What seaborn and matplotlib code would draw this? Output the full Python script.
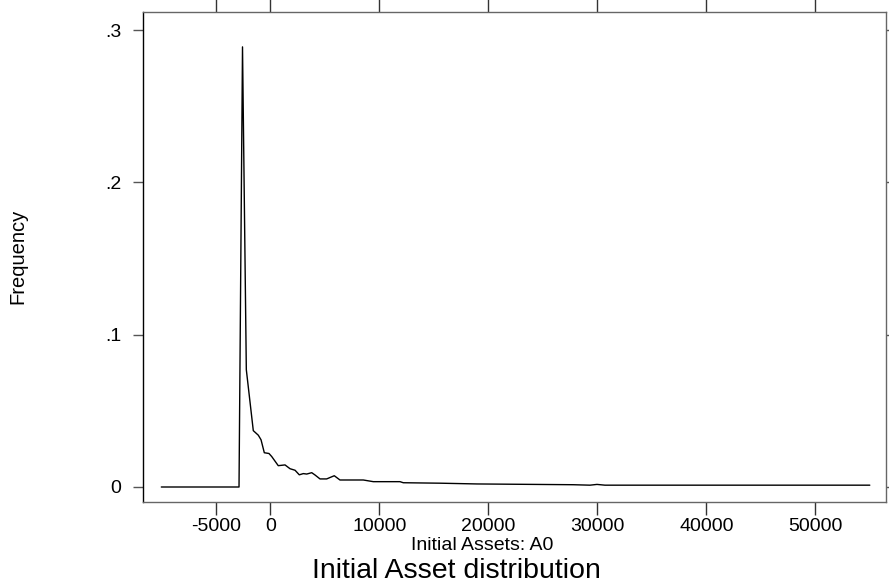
import matplotlib
matplotlib.use("Agg")
import matplotlib.pyplot as plt
import seaborn as sns
import pandas as pd

sns.set_style("white")
plt.rcParams["font.family"] = ["Liberation Sans", "DejaVu Sans"]
plt.rcParams["text.color"] = "black"
plt.rcParams["xtick.labelcolor"] = "black"
plt.rcParams["ytick.labelcolor"] = "black"

# Frequency polygon of initial assets
assets = [-10000, -2870, -2550, -2200, -1560, -1100, -850, -550, -120, 130,
          730, 1350, 1810, 2270, 2660, 3030, 3340, 3800, 4100, 4560,
          5170, 5870, 6390, 8530, 9450, 11900, 12200, 15570, 18960, 27770,
          29330, 29970, 30700, 55000]
frequency = [0.0, 0.0, 0.289, 0.077, 0.037, 0.034, 0.031, 0.0225, 0.022, 0.020,
             0.014, 0.0145, 0.012, 0.011, 0.008, 0.0088, 0.0085, 0.0094, 0.0079, 0.0053,
             0.0053, 0.0074, 0.0046, 0.0046, 0.0035, 0.0035, 0.0028, 0.0025, 0.002, 0.0015,
             0.0012, 0.0017, 0.0012, 0.0012]
x_ticks = [-5000, 0, 10000, 20000, 30000, 40000, 50000]
x_tick_labels = ["-5000", "0", "10000", "20000", "30000", "40000", "50000"]
y_ticks = [0, 0.1, 0.2, 0.3]
y_tick_labels = ["0", ".1", ".2", ".3"]

df = pd.DataFrame({"assets": assets, "frequency": frequency})

W, H = 889, 586
fig = plt.figure(figsize=(W / 100, H / 100), dpi=100)
ax = fig.add_axes([143 / W, 1 - 502 / H, (886 - 143) / W, (502 - 12) / H])

sns.lineplot(data=df, x="assets", y="frequency", ax=ax, color="black",
             linewidth=1.0, estimator=None, sort=False)

ax.set_xlim(-11679, 56486)
ax.set_ylim(-0.00985, 0.3119)
ax.set_xticks(x_ticks)
ax.set_xticklabels(x_tick_labels)
ax.set_yticks(y_ticks)
ax.set_yticklabels(y_tick_labels)
ax.set_xlabel("")
ax.set_ylabel("")

for side in ["top", "bottom", "right"]:
    ax.spines[side].set_color("#666666")
    ax.spines[side].set_linewidth(1.0)
ax.spines["left"].set_color("black")
ax.spines["left"].set_linewidth(1.0)

ax.tick_params(axis="x", which="both", bottom=True, top=True, direction="out",
               length=9.4, width=1.0, color="#333333", labelsize=14, pad=2,
               labelcolor="black")
ax.tick_params(axis="y", which="both", left=True, right=True, direction="out",
               length=7.5, width=1.0, color="#555555", labelsize=14, pad=8,
               labelcolor="black")

fig.text(482 / W, 1 - 550 / H, "Initial Assets: A0", ha="center", va="baseline",
         fontsize=14, color="black")
fig.text(456 / W, 1 - 578 / H, "Initial Asset distribution", ha="center",
         va="baseline", fontsize=20.5, color="black")
fig.text(18 / W, 1 - 256 / H, "Frequency", ha="center", va="center",
         rotation=90, fontsize=14.5, color="black")

fig.savefig("out.png", dpi=100, facecolor="white")
